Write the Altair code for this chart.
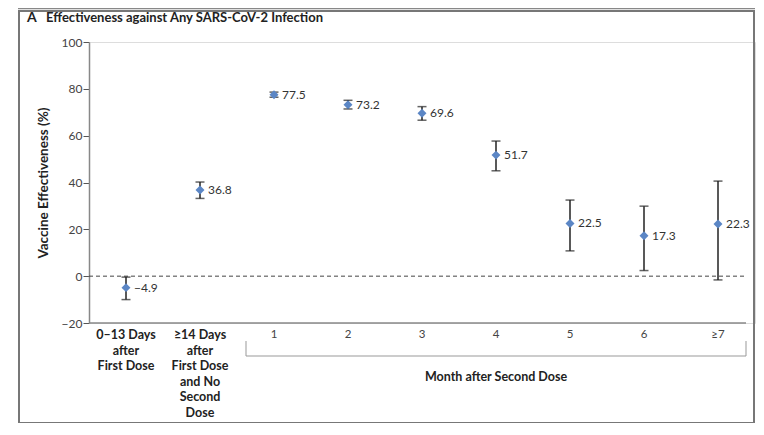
import altair as alt
import pandas as pd

categories = ["0–13 Days|after|First Dose", "≥14 Days|after|First Dose|and No|Second|Dose",
              "1", "2", "3", "4", "5", "6", "≥7"]
effect = [-4.9, 36.8, 77.5, 73.2, 69.6, 51.7, 22.5, 17.3, 22.3]
lower = [-10.0, 33.2, 76.4, 71.4, 66.6, 45.0, 10.8, 2.4, -1.6]
upper = [-0.4, 40.2, 78.6, 75.1, 72.4, 57.7, 32.5, 29.9, 40.6]
labels = ["−4.9", "36.8", "77.5", "73.2", "69.6", "51.7", "22.5", "17.3", "22.3"]
bold_flag = [True, True, False, False, False, False, False, False, False]
y_ticks = [-20, 0, 20, 40, 60, 80, 100]

df = pd.DataFrame({"cat": categories, "ve": effect, "lo": lower, "hi": upper,
                   "lab": labels, "bold": bold_flag})

FONT = "Lato"
W, H = 666, 281   # band range; visible axis line ends at AX
AX = 657

xscale = alt.Scale(domain=categories, paddingInner=0, paddingOuter=0)
xaxis = alt.Axis(labels=False, ticks=False, title=None, domain=False)
yscale = alt.Scale(domain=[-20, 100], nice=False, zero=False)
yaxis = alt.Axis(values=y_ticks, title="Vaccine Effectiveness (%)", grid=False,
                 tickSize=6, tickColor="#555", domainColor="#888", domainWidth=1.5,
                 labelFont=FONT, labelFontSize=12, labelColor="#444", labelPadding=1,
                 labelExpr="datum.value < 0 ? '−' + abs(datum.value) : datum.label",
                 titleFont=FONT, titleFontSize=13.5, titleFontWeight="bold", titleColor="#222",
                 titlePadding=11)


def X():
    return alt.X("cat:N", sort=categories, scale=xscale, axis=xaxis)


def Y(f):
    return alt.Y(f + ":Q", scale=yscale, axis=yaxis)


base = alt.Chart(df)
one = pd.DataFrame({"k": [0]})

frame = alt.Chart(one).mark_rect(
    fill=None, stroke="#777", strokeWidth=2, clip=False
).encode(x=alt.value(-70), x2=alt.value(665), y=alt.value(-31), y2=alt.value(381))

topline = alt.Chart(one).mark_rule(color="#888", strokeWidth=1.5).encode(
    x=alt.value(-71), x2=alt.value(666), y=alt.value(-33.5))

xline = alt.Chart(one).mark_rule(color="#888", strokeWidth=1.5).encode(
    x=alt.value(0), x2=alt.value(AX), y=alt.value(H))

zero = alt.Chart(pd.DataFrame({"z": [0]})).mark_rule(color="#444", strokeDash=[4, 3], strokeWidth=1).encode(
    y=Y("z"), x=alt.value(0), x2=alt.value(AX))

bars = base.mark_rule(color="#222", strokeWidth=1.5).encode(x=X(), y=Y("lo"), y2="hi:Q")
caps_lo = base.mark_tick(color="#222", thickness=1.5, size=9, orient="horizontal").encode(x=X(), y=Y("lo"))
caps_hi = base.mark_tick(color="#222", thickness=1.5, size=9, orient="horizontal").encode(x=X(), y=Y("hi"))
points = base.mark_point(shape="diamond", filled=True, color="#5B86C5", size=80, opacity=1).encode(
    x=X(), y=Y("ve"))
vals = base.mark_text(align="left", dx=8, font=FONT, fontSize=12, color="#333").encode(
    x=X(), y=Y("ve"), text="lab:N")

xl_bold = base.transform_filter("datum.bold").mark_text(
    baseline="top", font=FONT, fontSize=12.5, fontWeight="bold", color="#222", lineBreak="|", lineHeight=15.5
).encode(x=X(), y=alt.value(H + 6), text="cat:N")
xl_norm = base.transform_filter("!datum.bold").mark_text(
    baseline="top", font=FONT, fontSize=11.5, color="#444"
).encode(x=X(), y=alt.value(H + 6), text="cat:N")

bracket = alt.Chart(one).mark_rule(color="#999", strokeWidth=1).encode(
    x=alt.value(157), x2=alt.value(AX), y=alt.value(H + 33))
bl = alt.Chart(one).mark_rule(color="#999", strokeWidth=1).encode(
    x=alt.value(157), y=alt.value(H + 18), y2=alt.value(H + 33))
br = alt.Chart(one).mark_rule(color="#999", strokeWidth=1).encode(
    x=alt.value(AX), y=alt.value(H + 18), y2=alt.value(H + 33))
month = alt.Chart(pd.DataFrame({"t": ["Month after Second Dose"]})).mark_text(
    font=FONT, fontSize=12.5, fontWeight="bold", color="#222", baseline="middle"
).encode(x=alt.value(407), y=alt.value(H + 54), text="t:N")

title_a = alt.Chart(pd.DataFrame({"t": ["A"]})).mark_text(
    font=FONT, fontSize=14, fontWeight="bold", color="#222", align="left", baseline="alphabetic"
).encode(x=alt.value(-62), y=alt.value(-20), text="t:N")
title_t = alt.Chart(pd.DataFrame({"t": ["Effectiveness against Any SARS-CoV-2 Infection"]})).mark_text(
    font=FONT, fontSize=13, fontWeight="bold", color="#222", align="left", baseline="alphabetic"
).encode(x=alt.value(-43), y=alt.value(-20), text="t:N")

chart = alt.layer(
    frame, topline, xline, zero, bars, caps_lo, caps_hi, points, vals, xl_bold, xl_norm,
    bracket, bl, br, month, title_a, title_t
).properties(
    width=W, height=H,
    autosize=alt.AutoSizeParams(type="none"),
    padding={"left": 81, "top": 34, "right": 1, "bottom": 100}
).configure_view(stroke=None).configure(background="white")

chart.save("out.html", embed_options={"renderer": "svg", "actions": False})
